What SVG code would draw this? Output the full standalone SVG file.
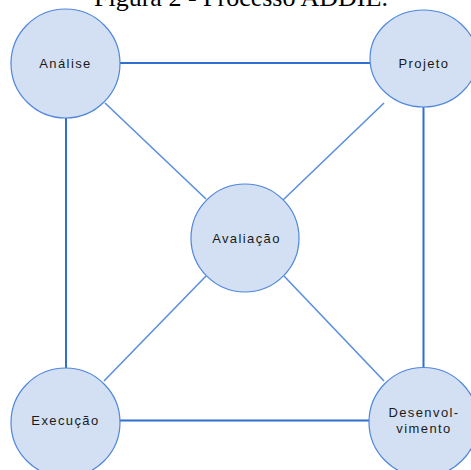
<svg xmlns="http://www.w3.org/2000/svg" width="471" height="470" viewBox="0 0 471 470">
  <style>
    .title { font-family: "Liberation Serif", "Times New Roman", serif; font-size: 26px; fill: #000; }
    .edge { stroke: #2f6fd0; stroke-width: 2; fill: none; }
    .diag { stroke: #5b8fe0; stroke-width: 1.6; fill: none; }
    .node { fill: #d3e0f4; stroke: #4f86dc; stroke-width: 1.2; }
    .label { font-family: "Liberation Sans", Arial, sans-serif; font-size: 13px; letter-spacing: 1.4px; fill: #1a1a1a; text-anchor: middle; }
  </style>
  <rect width="471" height="470" fill="#ffffff"/>

  <text class="title" x="94" y="5.5">Figura 2 - Processo ADDIE.</text>

  <g id="connectors">
    <line class="edge" x1="120" y1="63" x2="370" y2="63"/>
    <line class="edge" x1="120" y1="420.5" x2="369" y2="420.5"/>
    <line class="edge" x1="66" y1="117" x2="66" y2="368"/>
    <line class="edge" x1="423.5" y1="107" x2="423.5" y2="368"/>
    <line class="diag" x1="105" y1="103" x2="206" y2="199"/>
    <line class="diag" x1="384" y1="103" x2="283" y2="200"/>
    <line class="diag" x1="104" y1="381" x2="206" y2="276"/>
    <line class="diag" x1="384" y1="381" x2="284" y2="276"/>
  </g>

  <g id="analise">
    <circle class="node" cx="65.5" cy="63.5" r="54.5"/>
    <text class="label" x="65.5" y="68">Análise</text>
  </g>

  <g id="projeto">
    <ellipse class="node" cx="423.5" cy="58.5" rx="53.5" ry="48.5"/>
    <text class="label" x="424" y="68">Projeto</text>
  </g>

  <g id="avaliacao">
    <circle class="node" cx="245" cy="238" r="54"/>
    <text class="label" x="246.5" y="243">Avaliação</text>
  </g>

  <g id="execucao">
    <circle class="node" cx="65.5" cy="422.5" r="54.5"/>
    <text class="label" x="65.5" y="425">Execução</text>
  </g>

  <g id="desenvolvimento">
    <circle class="node" cx="423.5" cy="422" r="54.5"/>
    <text class="label" x="424" y="417">Desenvol-</text>
    <text class="label" x="424" y="433">vimento</text>
  </g>
</svg>
